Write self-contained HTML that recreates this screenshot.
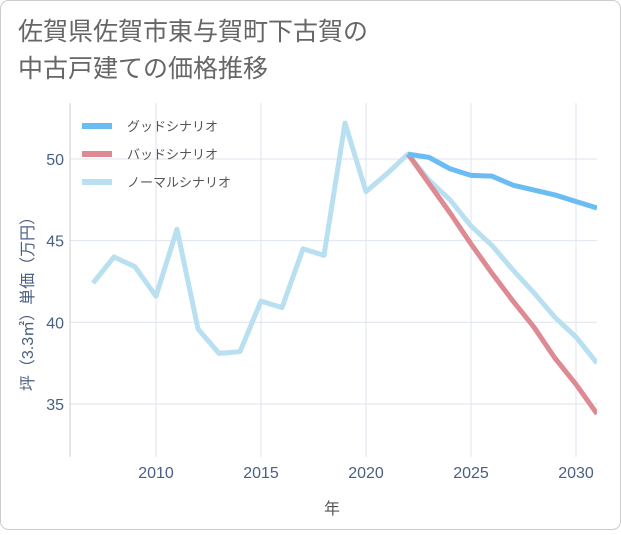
<!DOCTYPE html>
<html><head><meta charset="utf-8"><style>
body{margin:0;background:#fff;}
#wrap{position:relative;width:621px;height:530px;}
svg text{font-family:"Liberation Sans","Noto Sans CJK JP",sans-serif;}
</style></head><body>
<div id="wrap">
<svg id="chart" width="621" height="530">
<rect x="0.5" y="0.5" width="620" height="529" rx="8" fill="#fff" stroke="#ccc"/>
<text x="18" y="40" font-size="25" fill="#666">佐賀県佐賀市東与賀町下古賀の</text>
<text x="18" y="77" font-size="25" fill="#666">中古戸建ての価格推移</text>
<g id="grid"></g>
<g id="series"></g>
<g id="legend"></g>
<text x="332" y="514" font-size="16" fill="#555" text-anchor="middle">年</text>
<text transform="translate(33,300) rotate(-90)" font-size="16" fill="#4a6080" text-anchor="middle">坪（3.3㎡）単価（万円）</text>
</svg></div>
<script>
const years=[2007,2008,2009,2010,2011,2012,2013,2014,2015,2016,2017,2018,2019,2020,2021,2022,2023,2024,2025,2026,2027,2028,2029,2030,2031];
const normalVals=[42.4,44.0,43.4,41.6,45.7,39.6,38.1,38.2,41.3,40.9,44.5,44.1,52.2,48.0,49.1,50.3,48.7,47.5,45.9,44.7,43.2,41.8,40.3,39.1,37.5];
const goodYears=[2022,2023,2024,2025,2026,2027,2028,2029,2030,2031];
const goodVals=[50.3,50.1,49.4,49.0,48.95,48.4,48.1,47.8,47.4,47.0];
const badVals=[50.3,48.5,46.7,44.8,43.0,41.3,39.7,37.8,36.2,34.4];
const xTicks=[2010,2015,2020,2025,2030];
const yTicks=[35,40,45,50];
const legendLabels=["グッドシナリオ","バッドシナリオ","ノーマルシナリオ"];
const NS="http://www.w3.org/2000/svg";
const L=70,R=597,T=103,B=457;
const xs=y=>156+(y-2010)*21;
const ys=v=>159+(50-v)*16.33;
function mk(tag,attrs,parent){const e=document.createElementNS(NS,tag);for(const k in attrs)e.setAttribute(k,attrs[k]);parent.appendChild(e);return e;}
const grid=document.getElementById('grid');
xTicks.forEach(t=>{
 const l=mk('line',{x1:xs(t),x2:xs(t),y1:T,y2:B,stroke:'#dde4ee'},grid);
 
 
 const tx=mk('text',{x:xs(t),y:478,'font-size':16,fill:'#4a6080','text-anchor':'middle'},grid);
 tx.textContent=t;
 
 
});
yTicks.forEach(t=>{
 const l=mk('line',{x1:L,x2:R,y1:ys(t),y2:ys(t),stroke:'#dde4ee'},grid);
 
 
 const tx=mk('text',{x:64,y:ys(t)+6,'font-size':16,fill:'#4a6080','text-anchor':'end'},grid);
 tx.textContent=t;
 
 
});
const ax=mk('line',{x1:L,x2:L,y1:T,y2:B,stroke:'#ccc'},grid);


const ser=document.getElementById('series');
function line(yrs,vals,color,name){
 const p=mk('polyline',{points:yrs.map((y,i)=>xs(y)+','+ys(vals[i])).join(' '),fill:'none',stroke:color,'stroke-width':5,'stroke-linejoin':'round'},ser);
 
 
}
line(years,normalVals,'#b9e0f0','normal-scenario-line');
line(goodYears,badVals,'#de8a93','bad-scenario-line');
line(goodYears,goodVals,'#6bbcf2','good-scenario-line');
const cp=mk('clipPath',{id:'cp'},document.getElementById('chart'));
mk('rect',{x:L,y:T,width:R-L,height:B-T},cp);
ser.setAttribute('clip-path','url(#cp)');
const lg=document.getElementById('legend');
const lcol=['#6bbcf2','#de8a93','#b9e0f0'];
legendLabels.forEach((s,i)=>{
 const y=126+i*28;
 const l=mk('line',{x1:82,x2:112,y1:y,y2:y,stroke:lcol[i],'stroke-width':6},lg);
 
 
 const t=mk('text',{x:127,y:y+5,'font-size':13,fill:'#555'},lg);
 t.textContent=s;
 
 
});
</script>
</body></html>
